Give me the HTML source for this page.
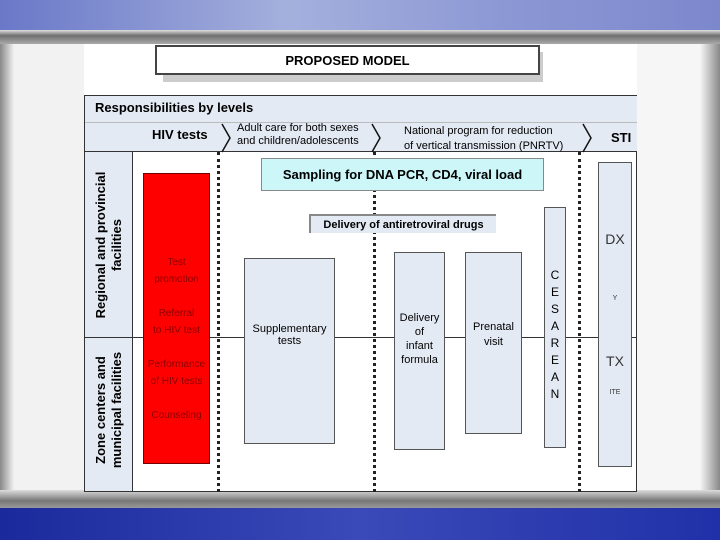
<!DOCTYPE html><html><head><style>
body{margin:0;width:720px;height:540px;position:relative;overflow:hidden;font-family:"Liberation Sans",sans-serif;background:#f4f4f4}
div{position:absolute;box-sizing:border-box}
.c{display:flex;align-items:center;justify-content:center;text-align:center}
.box{background:#e4eaf4;border:1px solid #555}
.dash{border-left:3px dotted #222;width:0}
</style></head><body>
<div style="left:0;top:0;width:720px;height:30px;background:linear-gradient(90deg,#6a78c8,#a4b0dc 40%,#8c98d4 70%,#7c88cc)"></div>
<div style="left:0;top:30px;width:720px;height:14px;background:linear-gradient(#e0e0e0,#707070 40%,#aaa)"></div>
<div style="left:0;top:44px;width:720px;height:450px;background:linear-gradient(90deg,#888 0,#f2f2f2 14px,#f6f6f6 700px,#888 720px)"></div>
<div style="left:0;top:490px;width:720px;height:18px;background:linear-gradient(#ddd,#777 60%,#999)"></div>
<div style="left:0;top:508px;width:720px;height:32px;background:linear-gradient(90deg,#1a2a9c,#3a4ab8 50%,#2030a8)"></div>
<div style="left:84px;top:44px;width:553px;height:448px;background:#fff"></div>
<div style="left:163px;top:52px;width:380px;height:30px;background:#ccc"></div>
<div class="c" style="left:155px;top:45px;width:385px;height:30px;background:#fff;border:2px solid #444;font-weight:bold;font-size:13px">PROPOSED MODEL</div>
<div style="left:84px;top:95px;width:553px;height:397px;border:1px solid #333;background:#fff"></div>
<div style="left:85px;top:96px;width:552px;height:56px;background:#e4eaf4;border-bottom:1px solid #333"></div>
<div style="left:95px;top:100px;font-weight:bold;font-size:13px">Responsibilities by levels</div>
<div style="left:85px;top:122px;width:552px;border-top:1px solid #bbb"></div>
<div style="left:152px;top:127px;font-weight:bold;font-size:13px">HIV tests</div>
<div style="left:237px;top:122px;font-size:11px;line-height:13px">Adult care for both sexes<br>and children/adolescents</div>
<div style="left:404px;top:124px;font-size:11px;line-height:15px">National program for reduction<br>of vertical transmission (PNRTV)</div>
<div style="left:611px;top:130px;font-weight:bold;font-size:13px">STI</div>
<svg style="position:absolute;left:0;top:0" width="720" height="540"><g fill="none" stroke="#111" stroke-width="1.5"><path d="M222 124 L230 138 L222 152"/><path d="M372 124 L380 138 L372 152"/><path d="M583 124 L591 138 L583 152"/></g></svg>
<div style="left:85px;top:152px;width:48px;height:339px;background:#e4eaf4;border-right:1px solid #333"></div>
<div style="left:85px;top:337px;width:551px;border-top:1px solid #333"></div>
<div class="c" style="left:24px;top:227px;width:170px;height:36px;transform:rotate(-90deg);font-weight:bold;font-size:13px;line-height:16px">Regional and provincial<br>facilities</div>
<div class="c" style="left:34px;top:392px;width:150px;height:36px;transform:rotate(-90deg);font-weight:bold;font-size:13px;line-height:16px">Zone centers and<br>municipal facilities</div>
<div class="dash" style="left:217px;top:152px;height:340px"></div>
<div class="dash" style="left:373px;top:152px;height:340px"></div>
<div class="dash" style="left:578px;top:152px;height:340px"></div>
<div style="left:143px;top:173px;width:67px;height:291px;background:#f00;border:1px solid #700;color:#800;font-size:10px;text-align:center;line-height:17px;padding-top:80px">Test<br>promotion<br><br>Referral<br>to HIV test<br><br>Performance<br>of HIV tests<br><br>Counseling</div>
<div class="box" style="left:244px;top:258px;width:91px;height:186px;font-size:11px;text-align:center;padding-top:64px">Supplementary<br>tests</div>
<div class="c" style="left:261px;top:158px;width:283px;height:33px;background:#ccf6f8;border:1px solid #888;font-weight:bold;font-size:13px">Sampling for DNA PCR, CD4, viral load</div>
<div class="c" style="left:309px;top:214px;width:187px;height:19px;background:#e4eaf4;border-top:2px solid #888;border-left:2px solid #888;font-weight:bold;font-size:11px">Delivery of antiretroviral drugs</div>
<div class="box" style="left:394px;top:252px;width:51px;height:198px;font-size:11px;text-align:center;padding-top:58px;line-height:14px">Delivery<br>of<br>infant<br>formula</div>
<div class="box" style="left:465px;top:252px;width:57px;height:182px;font-size:11px;text-align:center;padding-top:67px;line-height:15px">Prenatal<br>visit</div>
<div class="box" style="left:544px;top:207px;width:22px;height:241px;font-size:12px;text-align:center;padding-top:59px;line-height:17px">C<br>E<br>S<br>A<br>R<br>E<br>A<br>N</div>
<div class="box" style="left:598px;top:162px;width:34px;height:305px;text-align:center;color:#333">
<div style="left:0;width:32px;top:68px;font-size:14px">DX</div>
<div style="left:0;width:32px;top:132px;font-size:7px">Y</div>
<div style="left:0;width:32px;top:190px;font-size:14px">TX</div>
<div style="left:0;width:32px;top:226px;font-size:7px">ITE</div></div>
</body></html>
